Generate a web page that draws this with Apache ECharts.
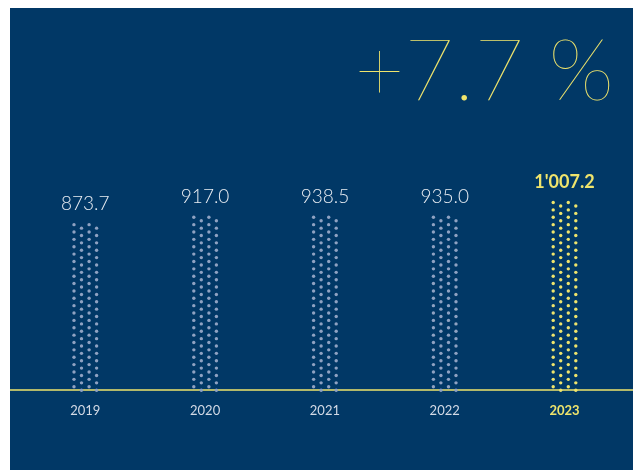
<!DOCTYPE html>
<html>
<head>
<meta charset="utf-8">
<script src="https://cdn.jsdelivr.net/npm/echarts@6/dist/echarts.min.js"></script>
<style>
html,body{margin:0;padding:0;background:#ffffff;width:633px;height:470px;overflow:hidden;}
#chart{position:absolute;left:10px;top:8px;width:623px;height:462px;background:#013866;}
</style>
</head>
<body>
<div id="chart"></div>
<script>
const years = ['2019', '2020', '2021', '2022', '2023'];
const values = [873.7, 917.0, 938.5, 935.0, 1007.2];
const valueLabels = ['873.7', '917.0', '938.5', '935.0', "1'007.2"];
const growthText = '+7.7 %';
const highlightIndex = 4;

const GREY = '#8fa2c2';
const YELLOW = '#efe46c';

const chart = echarts.init(document.getElementById('chart'));

const axisData = years.map((y, i) => {
  const hi = i === highlightIndex;
  return {
    value: y,
    textStyle: { color: hi ? YELLOW : '#d3dae6', fontWeight: hi ? 'bold' : 'normal' }
  };
});

// four staggered dot columns per bar
const columnOffsets = [[-11.3, -1.6], [-3.8, 1.9], [3.8, -1.6], [11.3, 1.9]];
const series = columnOffsets.map((off, c) => ({
  type: 'pictorialBar',
  xAxisIndex: 0, yAxisIndex: 0,
  barGap: '-100%',
  barWidth: 26,
  symbol: 'circle',
  symbolSize: [3.4, 3.4],
  symbolRepeat: true,
  symbolMargin: 2.03,
  symbolPosition: 'start',
  symbolOffset: off,
  z: 3,
  data: values.map((v, i) => {
    const hi = i === highlightIndex;
    const item = { value: v, itemStyle: { color: hi ? YELLOW : GREY } };
    if (c === 0) {
      item.label = {
        show: true, position: 'top', distance: 9.5, fontFamily: 'Lato',
        formatter: valueLabels[i],
        color: hi ? YELLOW : '#e9edf3',
        fontWeight: hi ? 'bold' : 300,
        fontSize: hi ? 18 : 19
      };
    }
    return item;
  })
}));

chart.setOption({
  animation: false,
  title: {
    text: growthText,
    right: 14,
    top: 16,
    textStyle: { color: YELLOW, fontSize: 86, fontWeight: 100, fontFamily: 'Lato' }
  },
  grid: [
    { left: 15.4, right: 8.6, top: 157.6, bottom: 80 },
    { left: 0, right: 0, top: 157.6, bottom: 80 }
  ],
  xAxis: [
    {
      type: 'category', gridIndex: 0, data: axisData,
      axisLine: { show: false }, axisTick: { show: false },
      axisLabel: { margin: 14, fontSize: 13, fontFamily: 'Lato' }
    },
    {
      type: 'category', gridIndex: 1, data: ['a'],
      axisLine: { show: true, lineStyle: { color: YELLOW, width: 1.5 } },
      axisTick: { show: false }, axisLabel: { show: false }
    }
  ],
  yAxis: [
    { type: 'value', gridIndex: 0, min: 0, max: 1240, show: false },
    { type: 'value', gridIndex: 1, min: 0, max: 1240, show: false }
  ],
  series: series
});
</script>
</body>
</html>
